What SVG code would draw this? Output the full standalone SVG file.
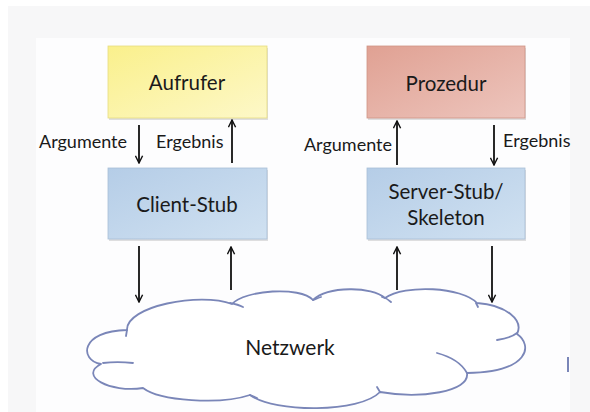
<svg xmlns="http://www.w3.org/2000/svg" width="590" height="412" viewBox="0 0 590 412">
<style>
  .box text, .lbl { font-family: Lato, "Open Sans", "Liberation Sans", sans-serif; fill: #1a1a1a; }
  .box text { font-size: 20.5px; text-anchor: middle; }
  .lbl { font-size: 18px; }
  .arr { stroke: #111; stroke-width: 1.8; fill: none; marker-end: url(#ah); }
  .cloud { fill: #fff; stroke: #7a86b8; stroke-width: 1.8; stroke-linejoin: round; }
  .tail { fill: none; stroke: #7a86b8; stroke-width: 1.8; stroke-linecap: round; }
  .shadow { fill: #000; opacity: 0.12; }
</style>
<defs>
  <marker id="ah" viewBox="0 0 10 10" refX="9" refY="5" markerWidth="9" markerHeight="9" markerUnits="userSpaceOnUse" orient="auto">
    <path d="M1,1 L9,5 L1,9" fill="none" stroke="#111" stroke-width="1.6"/>
  </marker>
  <linearGradient id="gy" x1="0" y1="0" x2="1" y2="1">
    <stop offset="0" stop-color="#faf08c"/>
    <stop offset="1" stop-color="#fdf8c8"/>
  </linearGradient>
  <linearGradient id="gr" x1="0" y1="0" x2="1" y2="1">
    <stop offset="0" stop-color="#e0a193"/>
    <stop offset="1" stop-color="#edc5bd"/>
  </linearGradient>
  <linearGradient id="gb" x1="0" y1="0" x2="1" y2="1">
    <stop offset="0" stop-color="#b5cde7"/>
    <stop offset="1" stop-color="#d0e1f1"/>
  </linearGradient>
</defs>

<rect x="0" y="0" width="590" height="412" fill="#ffffff"/>
<rect x="8" y="6" width="582" height="406" fill="#f7f7f8"/>
<rect x="36" y="38" width="534" height="374" fill="#fdfdfe"/>

<g id="aufrufer" class="box">
  <rect class="shadow" x="109" y="48" width="159" height="72"/>
  <rect x="108" y="46" width="159" height="72" fill="url(#gy)" stroke="#e6dc80" stroke-width="0.8"/>
  <text x="187" y="90">Aufrufer</text>
</g>
<g id="client-stub" class="box">
  <rect class="shadow" x="109" y="170" width="159" height="71"/>
  <rect x="108" y="168" width="159" height="71" fill="url(#gb)" stroke="#a9bfd8" stroke-width="0.8"/>
  <text x="187" y="212">Client-Stub</text>
</g>
<g id="prozedur" class="box">
  <rect class="shadow" x="368" y="48" width="158" height="72"/>
  <rect x="367" y="46" width="158" height="72" fill="url(#gr)" stroke="#cf9486" stroke-width="0.8"/>
  <text x="446" y="91">Prozedur</text>
</g>
<g id="server-stub" class="box">
  <rect class="shadow" x="368" y="170" width="158" height="71"/>
  <rect x="367" y="168" width="158" height="71" fill="url(#gb)" stroke="#a9bfd8" stroke-width="0.8"/>
  <text x="446" y="199">Server-Stub/</text>
  <text x="446" y="225">Skeleton</text>
</g>

<g id="netzwerk">
  <path class="cloud" d="M127,330 C126,306 200,292 232,304 C245,290 300,286 313,300 C328,286 372,286 385,298 C405,284 462,287 477,303 C506,305 524,320 517,334 C533,345 530,372 467,373 C470,392 420,399 380,392 C360,413 275,413 250,395 C220,405 160,401 143,388 C110,393 78,376 101,364 C79,360 80,331 127,330 Z"/>
  <path class="tail" d="M230,303 C235,304 239,305 243,307"/>
  <path class="tail" d="M313,300 C316,299 318,298 321,297"/>
  <path class="tail" d="M382,297 C386,298 389,300 391,302"/>
  <path class="tail" d="M476,303 L478,307"/>
  <path class="tail" d="M517,333 C512,337 504,339 497,340"/>
  <path class="tail" d="M437,353 C452,357 462,364 467,373"/>
  <path class="tail" d="M380,392 L377,387"/>
  <path class="tail" d="M250,395 L257,398"/>
  <path class="tail" d="M103,363 C112,362 123,362 133,363"/>
  <path class="tail" d="M127,330 L126,336"/>
  <text x="290" y="355" font-family="Lato, 'Open Sans', 'Liberation Sans', sans-serif" font-size="21" fill="#1a1a1a" text-anchor="middle">Netzwerk</text>
</g>

<g id="connectors">
  <line class="arr" x1="139" y1="125" x2="139" y2="163"/>
  <line class="arr" x1="232" y1="163" x2="232" y2="120"/>
  <line class="arr" x1="397" y1="165" x2="397" y2="121"/>
  <line class="arr" x1="494" y1="125" x2="494" y2="165"/>
  <line class="arr" x1="139" y1="246" x2="139" y2="302"/>
  <line class="arr" x1="231" y1="290" x2="231" y2="247"/>
  <line class="arr" x1="397" y1="290" x2="397" y2="247"/>
  <line class="arr" x1="492" y1="246" x2="492" y2="302"/>
  <text class="lbl" x="39" y="148">Argumente</text>
  <text class="lbl" x="156" y="148">Ergebnis</text>
  <text class="lbl" x="392" y="151" text-anchor="end">Argumente</text>
  <text class="lbl" x="503" y="147">Ergebnis</text>
</g>

<rect x="567" y="357" width="2" height="15" fill="#7a86b8"/>
</svg>
